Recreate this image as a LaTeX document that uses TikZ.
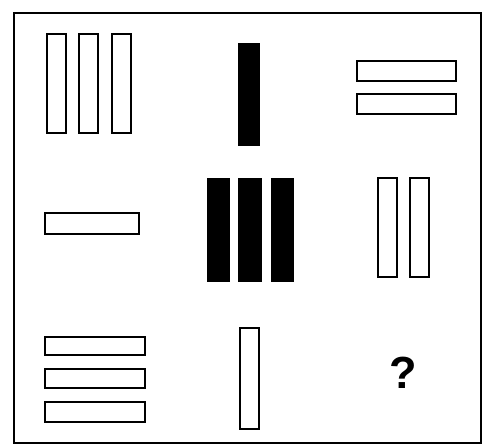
\documentclass[tikz,border=0pt]{standalone}
\usepackage{fontspec}
\setsansfont{Liberation Sans}
\tikzset{
	bar/.style={draw, line width=1.6pt},
	solidbar/.style={fill=black},
}

\begin{document}
\begin{tikzpicture}[x=1pt, y=-1pt]
	\useasboundingbox (0,0) rectangle (484,446);
	% outer frame
	\draw[line width=1.9pt] (14,13) rectangle (481,443);
	% top row
	\draw[bar] (47,34) rectangle (66,133);
	\draw[bar] (79,34) rectangle (98,133);
	\draw[bar] (112,34) rectangle (131,133);
	\fill[solidbar] (238,43) rectangle (260,146);
	\draw[bar] (357,61) rectangle (456,81);
	\draw[bar] (357,94) rectangle (456,114);
	% middle row
	\draw[bar] (45,213) rectangle (139,234);
	\fill[solidbar] (207,178) rectangle (230,282);
	\fill[solidbar] (238,178) rectangle (262,282);
	\fill[solidbar] (271,178) rectangle (294,282);
	\draw[bar] (378,178) rectangle (397,277);
	\draw[bar] (410,178) rectangle (429,277);
	% bottom row
	\draw[bar] (45,337) rectangle (145,355);
	\draw[bar] (45,369) rectangle (145,388);
	\draw[bar] (45,402) rectangle (145,422);
	\draw[bar] (240,328) rectangle (259,429);
	\node (missing) at (403,373) {\sffamily\bfseries\fontsize{45}{45}\selectfont ?};
\end{tikzpicture}
\end{document}
